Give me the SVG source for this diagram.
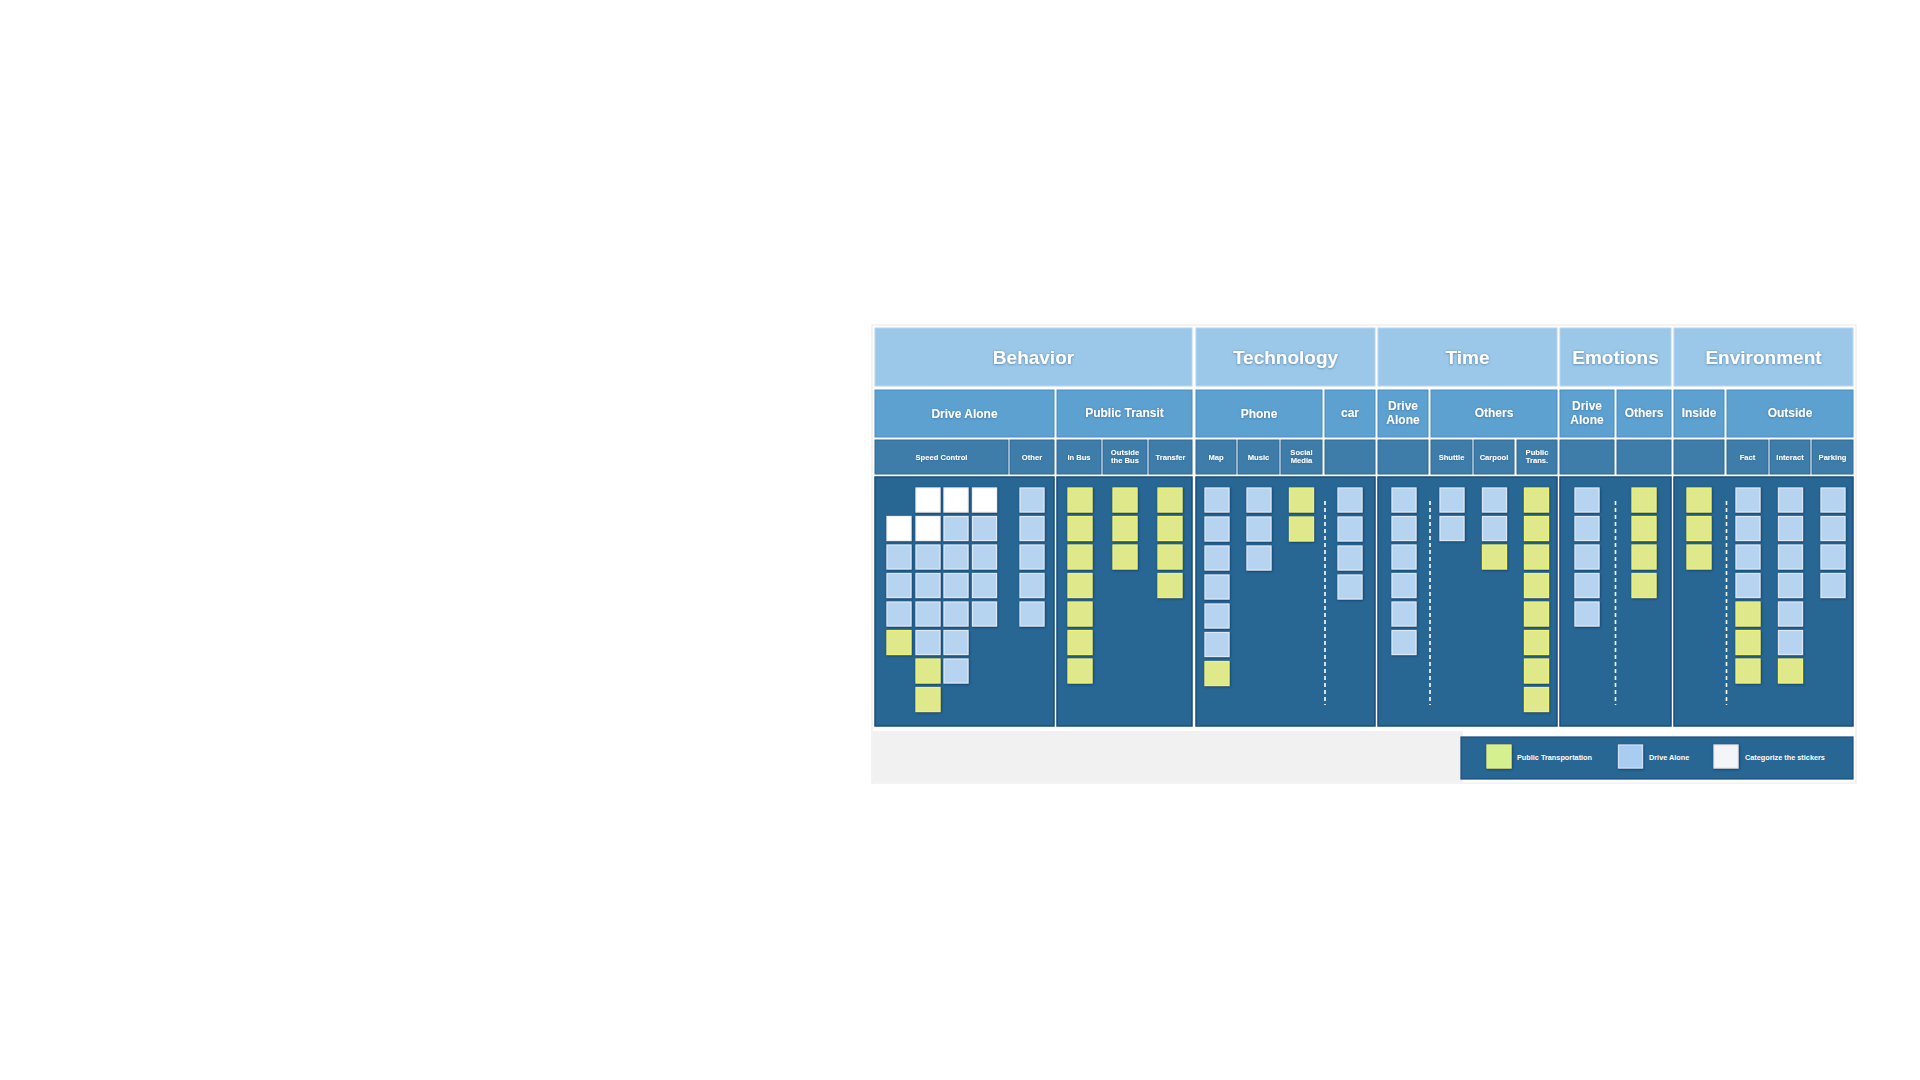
<svg xmlns="http://www.w3.org/2000/svg" width="1920" height="1080" viewBox="0 0 1920 1080">
<defs>
<filter id="sh" x="-30%" y="-30%" width="160%" height="160%">
<feDropShadow dx="0.6" dy="0.8" stdDeviation="0.9" flood-color="#0b3560" flood-opacity="0.9"/>
</filter>
<filter id="ts" x="-10%" y="-30%" width="120%" height="160%">
<feDropShadow dx="0" dy="0.5" stdDeviation="0.8" flood-color="#2b5f8a" flood-opacity="0.7"/>
</filter>
</defs>
<style>
.h1{fill:#9bc7e8;stroke:#b4d6ef;stroke-width:1}
.h2{fill:#5da1d1;stroke:#4a8dbf;stroke-width:1}
.h3{fill:#3e7daa;stroke:#2f6994;stroke-width:1}
.pn{fill:#286694;stroke:#1a4d7c;stroke-width:1.5}
.t{font-family:"Liberation Sans",Arial,sans-serif;font-weight:bold;fill:#ffffff;text-anchor:middle;filter:url(#ts)}
.t1{font-size:19px}
.t2{font-size:12px}
.t3{font-size:7.6px}
.lg{font-family:"Liberation Sans",Arial,sans-serif;font-weight:bold;fill:#ffffff;font-size:7.3px}
.st{filter:url(#sh);stroke-width:1.2}
.y{fill:#dfe98c;stroke:#f2f46c}
.b{fill:#b6d3f0;stroke:#dde9f7}
.w{fill:#ffffff;stroke:#f2f2f2}
.dash{stroke:#ffffff;stroke-width:1.6;stroke-dasharray:4 3;fill:none}
</style>
<rect width="1920" height="1080" fill="#ffffff"/>
<rect x="872" y="325" width="984" height="458" fill="none" stroke="#e8e8e8" stroke-width="1"/>

<!-- Row 1 headers -->
<g id="h-behavior"><rect class="h1" x="875" y="328" width="317" height="58"/><text class="t t1" x="1033.5" y="364">Behavior</text></g>
<g id="h-technology"><rect class="h1" x="1196" y="328" width="179" height="58"/><text class="t t1" x="1285.5" y="364">Technology</text></g>
<g id="h-time"><rect class="h1" x="1378" y="328" width="179" height="58"/><text class="t t1" x="1467.5" y="364">Time</text></g>
<g id="h-emotions"><rect class="h1" x="1560" y="328" width="111" height="58"/><text class="t t1" x="1615.5" y="364">Emotions</text></g>
<g id="h-environment"><rect class="h1" x="1674" y="328" width="179" height="58"/><text class="t t1" x="1763.5" y="364">Environment</text></g>

<!-- Row 2 headers -->
<g id="h2-drive-alone"><rect class="h2" x="875" y="390" width="179" height="47"/><text class="t t2" x="964.5" y="418">Drive Alone</text></g>
<g id="h2-public-transit"><rect class="h2" x="1057" y="390" width="135" height="47"/><text class="t t2" x="1124.5" y="417">Public Transit</text></g>
<g id="h2-phone"><rect class="h2" x="1196" y="390" width="126" height="47"/><text class="t t2" x="1259" y="418">Phone</text></g>
<g id="h2-car"><rect class="h2" x="1325" y="390" width="50" height="47"/><text class="t t2" x="1350" y="417">car</text></g>
<g id="h2-time-drive-alone"><rect class="h2" x="1378" y="390" width="50" height="47"/><text class="t t2" x="1403" y="409.5">Drive</text><text class="t t2" x="1403" y="423.5">Alone</text></g>
<g id="h2-time-others"><rect class="h2" x="1431" y="390" width="126" height="47"/><text class="t t2" x="1494" y="417">Others</text></g>
<g id="h2-emo-drive-alone"><rect class="h2" x="1560" y="390" width="54" height="47"/><text class="t t2" x="1587" y="409.5">Drive</text><text class="t t2" x="1587" y="423.5">Alone</text></g>
<g id="h2-emo-others"><rect class="h2" x="1617" y="390" width="54" height="47"/><text class="t t2" x="1644" y="417">Others</text></g>
<g id="h2-inside"><rect class="h2" x="1674" y="390" width="50" height="47"/><text class="t t2" x="1699" y="417">Inside</text></g>
<g id="h2-outside"><rect class="h2" x="1727" y="390" width="126" height="47"/><text class="t t2" x="1790" y="417">Outside</text></g>

<!-- Row 3 headers -->
<g id="h3-speed-control"><rect class="h3" x="875" y="440" width="133" height="34"/><text class="t t3" x="941.5" y="460">Speed Control</text></g>
<g id="h3-other"><rect class="h3" x="1010" y="440" width="44" height="34"/><text class="t t3" x="1032" y="460">Other</text></g>
<g id="h3-in-bus"><rect class="h3" x="1057" y="440" width="44" height="34"/><text class="t t3" x="1079" y="460">In Bus</text></g>
<g id="h3-outside-bus"><rect class="h3" x="1103" y="440" width="44" height="34"/><text class="t t3" x="1125" y="455">Outside</text><text class="t t3" x="1125" y="463">the Bus</text></g>
<g id="h3-transfer"><rect class="h3" x="1149" y="440" width="43" height="34"/><text class="t t3" x="1170.5" y="460">Transfer</text></g>
<g id="h3-map"><rect class="h3" x="1196" y="440" width="40" height="34"/><text class="t t3" x="1216" y="460">Map</text></g>
<g id="h3-music"><rect class="h3" x="1238" y="440" width="41" height="34"/><text class="t t3" x="1258.5" y="460">Music</text></g>
<g id="h3-social-media"><rect class="h3" x="1281" y="440" width="41" height="34"/><text class="t t3" x="1301.5" y="455">Social</text><text class="t t3" x="1301.5" y="463">Media</text></g>
<g id="h3-car-blank"><rect class="h3" x="1325" y="440" width="50" height="34"/></g>
<g id="h3-time-da-blank"><rect class="h3" x="1378" y="440" width="50" height="34"/></g>
<g id="h3-shuttle"><rect class="h3" x="1431" y="440" width="41" height="34"/><text class="t t3" x="1451.5" y="460">Shuttle</text></g>
<g id="h3-carpool"><rect class="h3" x="1474" y="440" width="40" height="34"/><text class="t t3" x="1494" y="460">Carpool</text></g>
<g id="h3-public-trans"><rect class="h3" x="1517" y="440" width="40" height="34"/><text class="t t3" x="1537" y="455">Public</text><text class="t t3" x="1537" y="463">Trans.</text></g>
<g id="h3-emo-da-blank"><rect class="h3" x="1560" y="440" width="54" height="34"/></g>
<g id="h3-emo-others-blank"><rect class="h3" x="1617" y="440" width="54" height="34"/></g>
<g id="h3-inside-blank"><rect class="h3" x="1674" y="440" width="50" height="34"/></g>
<g id="h3-fact"><rect class="h3" x="1727" y="440" width="41" height="34"/><text class="t t3" x="1747.5" y="460">Fact</text></g>
<g id="h3-interact"><rect class="h3" x="1770" y="440" width="40" height="34"/><text class="t t3" x="1790" y="460">Interact</text></g>
<g id="h3-parking"><rect class="h3" x="1812" y="440" width="41" height="34"/><text class="t t3" x="1832.5" y="460">Parking</text></g>

<!-- Panels -->
<g id="panel-behavior-da"><rect class="pn" x="875" y="477" width="179" height="249"/></g>
<g id="panel-behavior-pt"><rect class="pn" x="1057" y="477" width="135" height="249"/></g>
<g id="panel-technology"><rect class="pn" x="1196" y="477" width="179" height="249"/></g>
<g id="panel-time"><rect class="pn" x="1378" y="477" width="179" height="249"/></g>
<g id="panel-emotions"><rect class="pn" x="1560" y="477" width="111" height="249"/></g>
<g id="panel-environment"><rect class="pn" x="1674" y="477" width="179" height="249"/></g>

<g id="connectors">
<line class="dash" x1="1325" y1="501" x2="1325" y2="705"/>
<line class="dash" x1="1430" y1="501" x2="1430" y2="705"/>
<line class="dash" x1="1615.5" y1="501" x2="1615.5" y2="705"/>
<line class="dash" x1="1726.5" y1="501" x2="1726.5" y2="705"/>
</g>

<!-- Behavior / Drive Alone stickies -->
<g id="s-bda-c1r2"><rect class="st w" x="887" y="516.5" width="24" height="24"/></g>
<g id="s-bda-c1r3"><rect class="st b" x="887" y="545" width="24" height="24"/></g>
<g id="s-bda-c1r4"><rect class="st b" x="887" y="573.5" width="24" height="24"/></g>
<g id="s-bda-c1r5"><rect class="st b" x="887" y="602" width="24" height="24"/></g>
<g id="s-bda-c1r6"><rect class="st y" x="887" y="630.5" width="24" height="24"/></g>
<g id="s-bda-c2r1"><rect class="st w" x="916" y="488" width="24" height="24"/></g>
<g id="s-bda-c2r2"><rect class="st w" x="916" y="516.5" width="24" height="24"/></g>
<g id="s-bda-c2r3"><rect class="st b" x="916" y="545" width="24" height="24"/></g>
<g id="s-bda-c2r4"><rect class="st b" x="916" y="573.5" width="24" height="24"/></g>
<g id="s-bda-c2r5"><rect class="st b" x="916" y="602" width="24" height="24"/></g>
<g id="s-bda-c2r6"><rect class="st b" x="916" y="630.5" width="24" height="24"/></g>
<g id="s-bda-c2r7"><rect class="st y" x="916" y="659" width="24" height="24"/></g>
<g id="s-bda-c2r8"><rect class="st y" x="916" y="687.5" width="24" height="24"/></g>
<g id="s-bda-c3r1"><rect class="st w" x="944" y="488" width="24" height="24"/></g>
<g id="s-bda-c3r2"><rect class="st b" x="944" y="516.5" width="24" height="24"/></g>
<g id="s-bda-c3r3"><rect class="st b" x="944" y="545" width="24" height="24"/></g>
<g id="s-bda-c3r4"><rect class="st b" x="944" y="573.5" width="24" height="24"/></g>
<g id="s-bda-c3r5"><rect class="st b" x="944" y="602" width="24" height="24"/></g>
<g id="s-bda-c3r6"><rect class="st b" x="944" y="630.5" width="24" height="24"/></g>
<g id="s-bda-c3r7"><rect class="st b" x="944" y="659" width="24" height="24"/></g>
<g id="s-bda-c4r1"><rect class="st w" x="972.5" y="488" width="24" height="24"/></g>
<g id="s-bda-c4r2"><rect class="st b" x="972.5" y="516.5" width="24" height="24"/></g>
<g id="s-bda-c4r3"><rect class="st b" x="972.5" y="545" width="24" height="24"/></g>
<g id="s-bda-c4r4"><rect class="st b" x="972.5" y="573.5" width="24" height="24"/></g>
<g id="s-bda-c4r5"><rect class="st b" x="972.5" y="602" width="24" height="24"/></g>
<g id="s-bda-c5r1"><rect class="st b" x="1020" y="488" width="24" height="24"/></g>
<g id="s-bda-c5r2"><rect class="st b" x="1020" y="516.5" width="24" height="24"/></g>
<g id="s-bda-c5r3"><rect class="st b" x="1020" y="545" width="24" height="24"/></g>
<g id="s-bda-c5r4"><rect class="st b" x="1020" y="573.5" width="24" height="24"/></g>
<g id="s-bda-c5r5"><rect class="st b" x="1020" y="602" width="24" height="24"/></g>

<!-- Behavior / Public Transit stickies -->
<g id="s-bpt-c1r1"><rect class="st y" x="1068" y="488" width="24" height="24"/></g>
<g id="s-bpt-c1r2"><rect class="st y" x="1068" y="516.5" width="24" height="24"/></g>
<g id="s-bpt-c1r3"><rect class="st y" x="1068" y="545" width="24" height="24"/></g>
<g id="s-bpt-c1r4"><rect class="st y" x="1068" y="573.5" width="24" height="24"/></g>
<g id="s-bpt-c1r5"><rect class="st y" x="1068" y="602" width="24" height="24"/></g>
<g id="s-bpt-c1r6"><rect class="st y" x="1068" y="630.5" width="24" height="24"/></g>
<g id="s-bpt-c1r7"><rect class="st y" x="1068" y="659" width="24" height="24"/></g>
<g id="s-bpt-c2r1"><rect class="st y" x="1113" y="488" width="24" height="24"/></g>
<g id="s-bpt-c2r2"><rect class="st y" x="1113" y="516.5" width="24" height="24"/></g>
<g id="s-bpt-c2r3"><rect class="st y" x="1113" y="545" width="24" height="24"/></g>
<g id="s-bpt-c3r1"><rect class="st y" x="1158" y="488" width="24" height="24"/></g>
<g id="s-bpt-c3r2"><rect class="st y" x="1158" y="516.5" width="24" height="24"/></g>
<g id="s-bpt-c3r3"><rect class="st y" x="1158" y="545" width="24" height="24"/></g>
<g id="s-bpt-c3r4"><rect class="st y" x="1158" y="573.5" width="24" height="24"/></g>

<!-- Technology stickies -->
<g id="s-tec-c1r1"><rect class="st b" x="1205" y="488" width="24" height="24"/></g>
<g id="s-tec-c1r2"><rect class="st b" x="1205" y="517" width="24" height="24"/></g>
<g id="s-tec-c1r3"><rect class="st b" x="1205" y="546" width="24" height="24"/></g>
<g id="s-tec-c1r4"><rect class="st b" x="1205" y="575" width="24" height="24"/></g>
<g id="s-tec-c1r5"><rect class="st b" x="1205" y="604" width="24" height="24"/></g>
<g id="s-tec-c1r6"><rect class="st b" x="1205" y="632.5" width="24" height="24"/></g>
<g id="s-tec-c1r7"><rect class="st y" x="1205" y="661.5" width="24" height="24"/></g>
<g id="s-tec-c2r1"><rect class="st b" x="1247" y="488" width="24" height="24"/></g>
<g id="s-tec-c2r2"><rect class="st b" x="1247" y="517" width="24" height="24"/></g>
<g id="s-tec-c2r3"><rect class="st b" x="1247" y="546" width="24" height="24"/></g>
<g id="s-tec-c3r1"><rect class="st y" x="1289.5" y="488" width="24" height="24"/></g>
<g id="s-tec-c3r2"><rect class="st y" x="1289.5" y="517" width="24" height="24"/></g>
<g id="s-tec-c4r1"><rect class="st b" x="1338" y="488" width="24" height="24"/></g>
<g id="s-tec-c4r2"><rect class="st b" x="1338" y="517" width="24" height="24"/></g>
<g id="s-tec-c4r3"><rect class="st b" x="1338" y="546" width="24" height="24"/></g>
<g id="s-tec-c4r4"><rect class="st b" x="1338" y="575" width="24" height="24"/></g>

<!-- Time stickies -->
<g id="s-tim-c1r1"><rect class="st b" x="1392" y="488" width="24" height="24"/></g>
<g id="s-tim-c1r2"><rect class="st b" x="1392" y="516.5" width="24" height="24"/></g>
<g id="s-tim-c1r3"><rect class="st b" x="1392" y="545" width="24" height="24"/></g>
<g id="s-tim-c1r4"><rect class="st b" x="1392" y="573.5" width="24" height="24"/></g>
<g id="s-tim-c1r5"><rect class="st b" x="1392" y="602" width="24" height="24"/></g>
<g id="s-tim-c1r6"><rect class="st b" x="1392" y="630.5" width="24" height="24"/></g>
<g id="s-tim-c2r1"><rect class="st b" x="1440" y="488" width="24" height="24"/></g>
<g id="s-tim-c2r2"><rect class="st b" x="1440" y="516.5" width="24" height="24"/></g>
<g id="s-tim-c3r1"><rect class="st b" x="1482.5" y="488" width="24" height="24"/></g>
<g id="s-tim-c3r2"><rect class="st b" x="1482.5" y="516.5" width="24" height="24"/></g>
<g id="s-tim-c3r3"><rect class="st y" x="1482.5" y="545" width="24" height="24"/></g>
<g id="s-tim-c4r1"><rect class="st y" x="1524.5" y="488" width="24" height="24"/></g>
<g id="s-tim-c4r2"><rect class="st y" x="1524.5" y="516.5" width="24" height="24"/></g>
<g id="s-tim-c4r3"><rect class="st y" x="1524.5" y="545" width="24" height="24"/></g>
<g id="s-tim-c4r4"><rect class="st y" x="1524.5" y="573.5" width="24" height="24"/></g>
<g id="s-tim-c4r5"><rect class="st y" x="1524.5" y="602" width="24" height="24"/></g>
<g id="s-tim-c4r6"><rect class="st y" x="1524.5" y="630.5" width="24" height="24"/></g>
<g id="s-tim-c4r7"><rect class="st y" x="1524.5" y="659" width="24" height="24"/></g>
<g id="s-tim-c4r8"><rect class="st y" x="1524.5" y="687.5" width="24" height="24"/></g>

<!-- Emotions stickies -->
<g id="s-emo-c1r1"><rect class="st b" x="1575" y="488" width="24" height="24"/></g>
<g id="s-emo-c1r2"><rect class="st b" x="1575" y="516.5" width="24" height="24"/></g>
<g id="s-emo-c1r3"><rect class="st b" x="1575" y="545" width="24" height="24"/></g>
<g id="s-emo-c1r4"><rect class="st b" x="1575" y="573.5" width="24" height="24"/></g>
<g id="s-emo-c1r5"><rect class="st b" x="1575" y="602" width="24" height="24"/></g>
<g id="s-emo-c2r1"><rect class="st y" x="1632" y="488" width="24" height="24"/></g>
<g id="s-emo-c2r2"><rect class="st y" x="1632" y="516.5" width="24" height="24"/></g>
<g id="s-emo-c2r3"><rect class="st y" x="1632" y="545" width="24" height="24"/></g>
<g id="s-emo-c2r4"><rect class="st y" x="1632" y="573.5" width="24" height="24"/></g>

<!-- Environment stickies -->
<g id="s-env-in-r1"><rect class="st y" x="1687" y="488" width="24" height="24"/></g>
<g id="s-env-in-r2"><rect class="st y" x="1687" y="516.5" width="24" height="24"/></g>
<g id="s-env-in-r3"><rect class="st y" x="1687" y="545" width="24" height="24"/></g>
<g id="s-env-fa-r1"><rect class="st b" x="1736" y="488" width="24" height="24"/></g>
<g id="s-env-fa-r2"><rect class="st b" x="1736" y="516.5" width="24" height="24"/></g>
<g id="s-env-fa-r3"><rect class="st b" x="1736" y="545" width="24" height="24"/></g>
<g id="s-env-fa-r4"><rect class="st b" x="1736" y="573.5" width="24" height="24"/></g>
<g id="s-env-fa-r5"><rect class="st y" x="1736" y="602" width="24" height="24"/></g>
<g id="s-env-fa-r6"><rect class="st y" x="1736" y="630.5" width="24" height="24"/></g>
<g id="s-env-fa-r7"><rect class="st y" x="1736" y="659" width="24" height="24"/></g>
<g id="s-env-ia-r1"><rect class="st b" x="1778.5" y="488" width="24" height="24"/></g>
<g id="s-env-ia-r2"><rect class="st b" x="1778.5" y="516.5" width="24" height="24"/></g>
<g id="s-env-ia-r3"><rect class="st b" x="1778.5" y="545" width="24" height="24"/></g>
<g id="s-env-ia-r4"><rect class="st b" x="1778.5" y="573.5" width="24" height="24"/></g>
<g id="s-env-ia-r5"><rect class="st b" x="1778.5" y="602" width="24" height="24"/></g>
<g id="s-env-ia-r6"><rect class="st b" x="1778.5" y="630.5" width="24" height="24"/></g>
<g id="s-env-ia-r7"><rect class="st y" x="1778.5" y="659" width="24" height="24"/></g>
<g id="s-env-pk-r1"><rect class="st b" x="1821" y="488" width="24" height="24"/></g>
<g id="s-env-pk-r2"><rect class="st b" x="1821" y="516.5" width="24" height="24"/></g>
<g id="s-env-pk-r3"><rect class="st b" x="1821" y="545" width="24" height="24"/></g>
<g id="s-env-pk-r4"><rect class="st b" x="1821" y="573.5" width="24" height="24"/></g>

<!-- Bottom band and legend -->
<rect x="873" y="731" width="590" height="51" fill="#f1f1f1"/>
<g id="legend">
<rect x="1461" y="737" width="392" height="42" fill="#286694" stroke="#1a4d7c" stroke-width="1.2"/>
<rect x="1487" y="745" width="24" height="23" fill="#d5f08e" stroke="#eef07a" stroke-width="1.2" filter="url(#sh)"/>
<text class="lg" x="1517" y="760">Public Transportation</text>
<rect x="1618.5" y="745" width="24" height="23" fill="#a9cdf1" stroke="#cfe2f6" stroke-width="1.2" filter="url(#sh)"/>
<text class="lg" x="1649" y="760">Drive Alone</text>
<rect x="1714" y="745" width="24" height="23" fill="#f4f5f7" stroke="#e8e8e8" stroke-width="1.2" filter="url(#sh)"/>
<text class="lg" x="1745" y="760">Categorize the stickers</text>
</g>
</svg>
